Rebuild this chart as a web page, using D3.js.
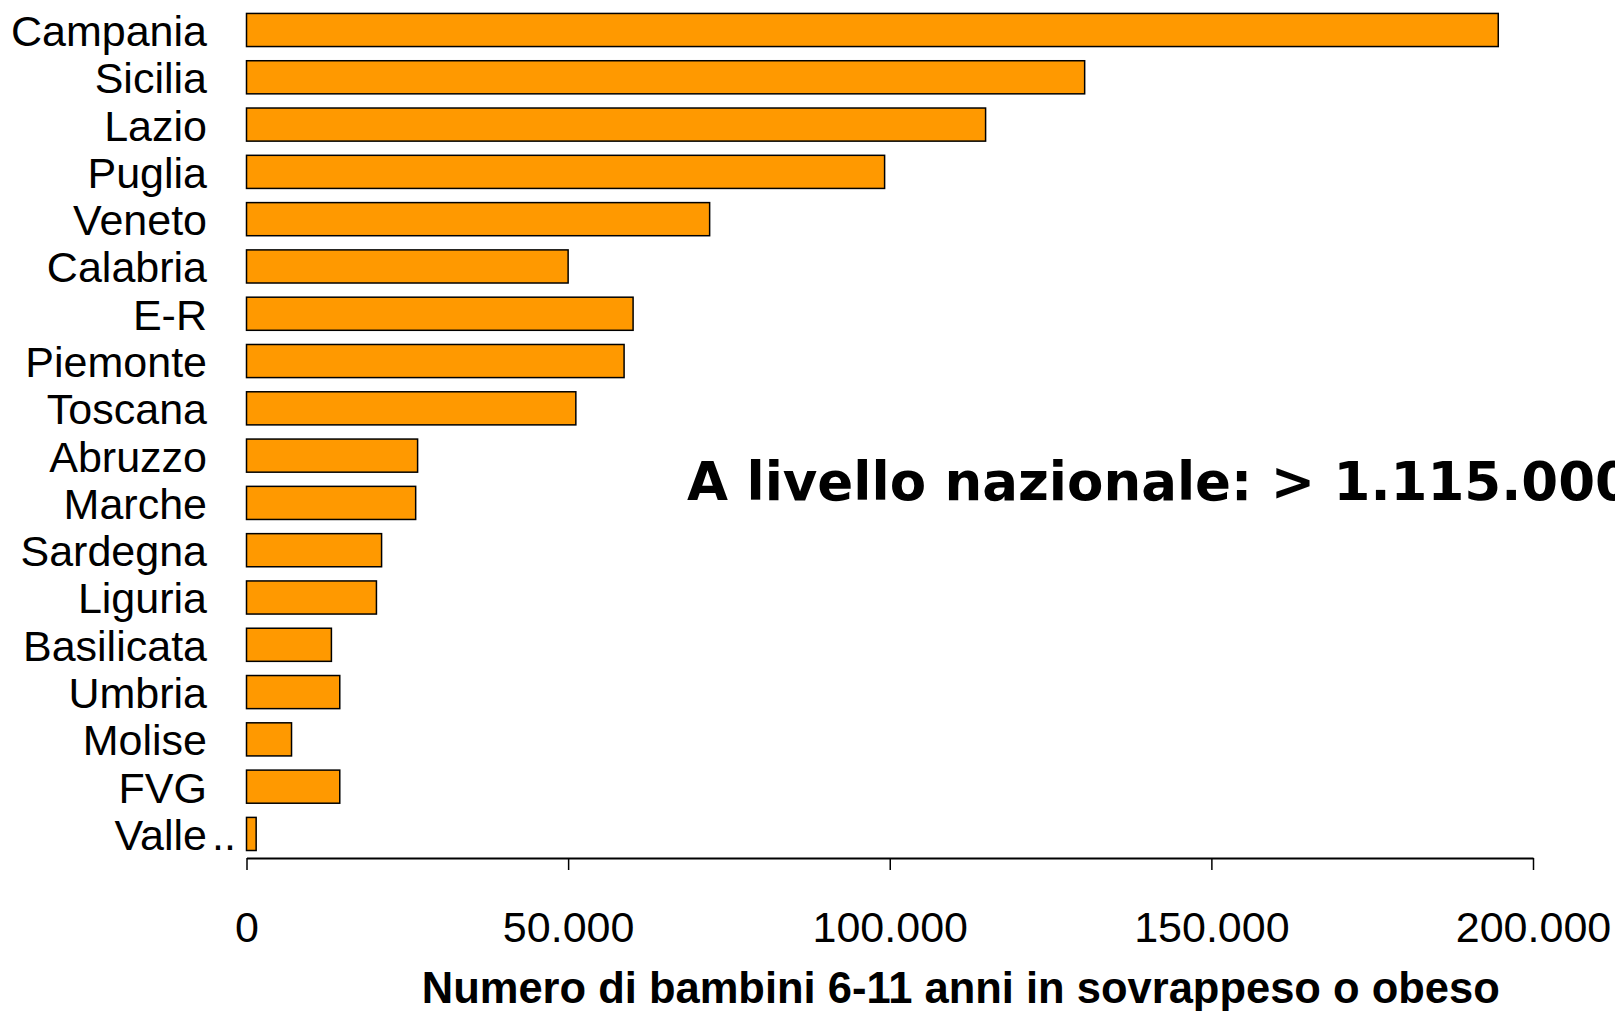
<!DOCTYPE html>
<html>
<head>
<meta charset="utf-8">
<script src="https://cdn.jsdelivr.net/npm/d3@7/dist/d3.min.js"></script>
<style>
  html, body { margin: 0; padding: 0; background: #fff; }
  svg { display: block; }
</style>
</head>
<body>
<script>
const categories = ["Campania","Sicilia","Lazio","Puglia","Veneto","Calabria","E-R","Piemonte","Toscana","Abruzzo","Marche","Sardegna","Liguria","Basilicata","Umbria","Molise","FVG","Valle.."];
const values = [194600,130300,114900,99200,72000,50000,60100,58700,51200,26600,26300,21000,20200,13200,14500,7000,14500,1500];
const tickValues = [0,50000,100000,150000,200000];
const axisTitle = "Numero di bambini 6-11 anni in sovrappeso o obeso";
const annotation = "A livello nazionale: > 1.115.000";

const W = 1615, H = 1011;
const svg = d3.select("body").append("svg").attr("width", W).attr("height", H);

const x = d3.scaleLinear().domain([0, 200000]).range([246.5, 1533]);
const y = d3.scaleBand().domain(categories).range([6.35, 857.6]).paddingInner(0.3).paddingOuter(0.15);

const itFmt = d3.formatLocale({decimal: ",", thousands: ".", grouping: [3], currency: ["€",""]}).format(",d");

// bars
svg.append("g").selectAll("rect").data(categories).join("rect")
  .attr("x", x(0))
  .attr("y", d => y(d))
  .attr("width", (d, i) => x(values[i]) - x(0))
  .attr("height", y.bandwidth())
  .attr("fill", "#FF9900")
  .attr("stroke", "#000")
  .attr("stroke-width", 1.5);

// category labels
const lab = svg.append("g").attr("font-family", "'Liberation Sans', Arial, sans-serif").attr("font-size", 43).attr("fill", "#000");
categories.forEach(c => {
  const cy = y(c) + y.bandwidth() / 2 + 16;
  const trunc = c.endsWith("..");
  const base = trunc ? c.slice(0, -2) : c;
  lab.append("text").attr("x", 207).attr("y", cy).attr("text-anchor", "end").text(base);
  if (trunc) lab.append("text").attr("x", 212).attr("y", cy).attr("text-anchor", "start").text("..");
});

// x axis
const axis = d3.axisBottom(x).tickValues(tickValues).tickFormat(itFmt).tickSizeOuter(0).tickSizeInner(12).tickPadding(0);
const gx = svg.append("g").attr("transform", `translate(0,${858})`).call(axis);
gx.select(".domain").attr("stroke", "#000").attr("stroke-width", 2);
gx.selectAll(".tick line").attr("stroke", "#000").attr("stroke-width", 1.5);
gx.selectAll(".tick text")
  .attr("font-family", "'Liberation Sans', Arial, sans-serif")
  .attr("font-size", 43)
  .attr("fill", "#000")
  .attr("dy", null)
  .attr("y", 84);

// axis title
svg.append("text")
  .attr("x", (x(0) + x(200000)) / 2 + 71)
  .attr("y", 1003)
  .attr("text-anchor", "middle")
  .attr("font-family", "'Liberation Sans', Arial, sans-serif")
  .attr("font-weight", "bold")
  .attr("font-size", 43.5)
  .attr("fill", "#000")
  .text(axisTitle);

// annotation
svg.append("text")
  .attr("x", 687)
  .attr("y", 500)
  .attr("font-family", "'DejaVu Sans', Verdana, sans-serif")
  .attr("font-weight", "bold")
  .attr("font-size", 53)
  .attr("fill", "#000")
  .text(annotation);
</script>
</body>
</html>
